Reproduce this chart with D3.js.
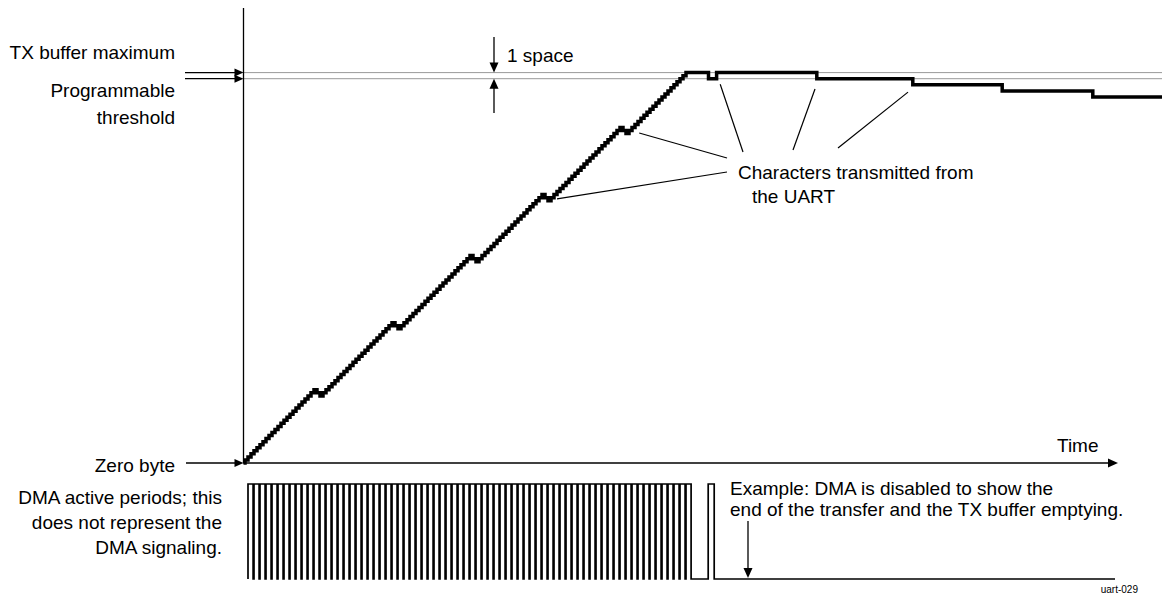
<!DOCTYPE html>
<html><head><meta charset="utf-8">
<script src="https://cdn.jsdelivr.net/npm/d3@7"></script>
<style>
body{margin:0;background:#fff}
text{font-family:"Liberation Sans",Arial,Helvetica,sans-serif;fill:#000}
</style>
</head><body>
<svg id="c" width="1162" height="605"></svg>
<script>
// ---------- data ----------
const bufferMaxBytes = 64;                 // TX buffer maximum
const thresholdBytes = 63;                 // programmable threshold (1 space below max)
const dmaCycles = 74;                      // DMA active cycles while filling (cycles 0..73)
const txCyclesDuringFill = [12, 25, 38, 50, 63];   // fill cycles in which a character leaves (level drops 1 byte)
const txTimesAfterFull = [77.25, 95.3, 111.3, 126.2, 141.3]; // characters transmitted once the buffer is full
const dmaExtraPulses = [77.2];             // single DMA refill pulse after the first transmit at full level
const dmaExtraWriteTimes = [78.6];         // byte written by that refill pulse
const timeDomain = [0, 145.5];
const leftLabelsTop = ["TX buffer maximum"];
const leftLabelsThreshold = ["Programmable", "threshold"];
const leftLabelZero = ["Zero byte"];
const leftLabelsDma = ["DMA active periods; this", "does not represent the", "DMA signaling."];
const noteLines = ["Characters transmitted from", "the UART"];
const exampleLines = ["Example: DMA is disabled to show the", "end of the transfer and the TX buffer emptying."];
const spaceLabel = "1 space";
const axisLabel = "Time";
const figureId = "uart-029";
// leader lines: start at (time, level) near the trace, end at a text anchor (px)
const leaderTimes  = [65.7, 52.0, 79.2, 95.0, 110.5];
const leaderLevels = [54.1, 43.3, 62.1, 61.3, 60.8];
const leaderEndX   = [727, 727, 743, 793, 838];
const leaderEndY   = [158, 172, 152, 150, 148];

// ---------- scales ----------
const svg = d3.select("#c");
const x = d3.scaleLinear().domain(timeDomain).range([245, 1118]);
const y = d3.scaleLinear().domain([0, bufferMaxBytes]).range([463, 72.6]);
const axisX = 243.5;
const FS = 19;

function tri(px, py, dir, len = 10, half = 4) {
  let pts;
  if (dir === "right") pts = [[px, py], [px - len, py - half], [px - len, py + half]];
  if (dir === "down")  pts = [[px, py], [px - half, py - len], [px + half, py - len]];
  if (dir === "up")    pts = [[px, py], [px - half, py + len], [px + half, py + len]];
  svg.append("path").attr("d", "M" + pts.map(p => p.join(",")).join("L") + "Z").attr("fill", "#000");
}
function line(x1, y1, x2, y2, w = 1.3) {
  svg.append("line").attr("x1", x1).attr("y1", y1).attr("x2", x2).attr("y2", y2)
    .attr("stroke", "#000").attr("stroke-width", w);
}

// ---------- dotted reference lines ----------
[bufferMaxBytes, thresholdBytes].forEach(v => {
  svg.append("line").attr("x1", axisX).attr("x2", 1162).attr("y1", y(v)).attr("y2", y(v))
    .attr("stroke", "#333").attr("stroke-width", 1).attr("stroke-dasharray", "1,1");
});

// ---------- axes ----------
line(axisX, 8, axisX, y(0) + 0.5, 1.3);
line(axisX, y(0), x(timeDomain[1]) - 6, y(0), 1.3);
tri(x(timeDomain[1]), y(0), "right", 10, 4.5);

// ---------- left labels + arrows ----------
const labRight = 175;
svg.append("text").attr("x", labRight).attr("y", 59).attr("text-anchor", "end").attr("font-size", FS).text(leftLabelsTop[0]);
leftLabelsThreshold.forEach((t, i) => svg.append("text").attr("x", labRight).attr("y", 97 + i * 27)
  .attr("text-anchor", "end").attr("font-size", FS).text(t));
[bufferMaxBytes, thresholdBytes].forEach(v => { line(185, y(v), axisX - 6, y(v), 1.3); tri(axisX, y(v), "right", 9, 4); });
svg.append("text").attr("x", labRight).attr("y", 472).attr("text-anchor", "end").attr("font-size", FS).text(leftLabelZero[0]);
line(186, y(0), axisX - 6, y(0), 1.3); tri(axisX, y(0), "right", 9, 4);
leftLabelsDma.forEach((t, i) => svg.append("text").attr("x", 222).attr("y", 504 + i * 25)
  .attr("text-anchor", "end").attr("font-size", FS).text(t));

// ---------- buffer level staircase (drawn in half-byte steps) ----------
const events = [];
for (let k = 0; k < dmaCycles; k++) {
  const d = txCyclesDuringFill.includes(k) ? -0.5 : 0.5;
  events.push([k, d]); events.push([k + 0.5, d]);
}
txTimesAfterFull.forEach(t => events.push([t, -1]));
dmaExtraWriteTimes.forEach(t => events.push([t, 1]));
events.sort((a, b) => a[0] - b[0]);
const tStart = x.invert(axisX), tEnd = x.invert(1162);
let lvl = 0;
const pts = [[tStart, 0]];
events.forEach(([t, d]) => { lvl += d; pts.push([t, lvl]); });
pts.push([tEnd, lvl]);
svg.append("path").datum(pts)
  .attr("d", d3.line().x(d => x(d[0])).y(d => y(d[1])).curve(d3.curveStepAfter))
  .attr("fill", "none").attr("stroke", "#000").attr("stroke-width", 3.5).attr("stroke-linejoin", "miter");

// ---------- 1 space annotation ----------
const spX = 494;
line(spX, 37, spX, y(bufferMaxBytes) - 8, 1.3); tri(spX, y(bufferMaxBytes), "down", 10, 4.5);
line(spX, 113, spX, y(thresholdBytes) + 8, 1.3); tri(spX, y(thresholdBytes), "up", 10, 4.5);
svg.append("text").attr("x", 507).attr("y", 62).attr("font-size", FS).text(spaceLabel);

// ---------- characters transmitted note ----------
leaderTimes.forEach((t, i) => line(x(t), y(leaderLevels[i]), leaderEndX[i], leaderEndY[i], 1.2));
svg.append("text").attr("x", 738).attr("y", 179).attr("font-size", FS).text(noteLines[0]);
svg.append("text").attr("x", 752).attr("y", 203).attr("font-size", FS).text(noteLines[1]);

// ---------- Time label ----------
svg.append("text").attr("x", 1057).attr("y", 452).attr("font-size", FS).text(axisLabel);

// ---------- DMA active periods ----------
const dTop = 484, dBot = 579;
let dp = `M${x(0.5)},${dBot}V${dTop}`;
for (let k = 0; k < dmaCycles; k++) {
  dp += `H${x(k + 1.35)}V${dBot}`;
  if (k < dmaCycles - 1) dp += `H${x(k + 1.5)}V${dTop}`;
}
dmaExtraPulses.forEach(p => { dp += `H${x(p)}V${dTop}H${x(p + 1)}V${dBot}`; });
dp += `H1115`;
svg.append("path").attr("d", dp).attr("fill", "none").attr("stroke", "#000").attr("stroke-width", 1.7);

// ---------- example note ----------
exampleLines.forEach((t, i) => svg.append("text").attr("x", 730).attr("y", 495 + i * 21).attr("font-size", FS).text(t));
line(748, 521, 748, dBot - 10, 1.3); tri(748, dBot - 1, "down", 10, 4.5);

svg.append("text").attr("x", 1138).attr("y", 593).attr("text-anchor", "end").attr("font-size", 10).text(figureId);
</script>
</body></html>
